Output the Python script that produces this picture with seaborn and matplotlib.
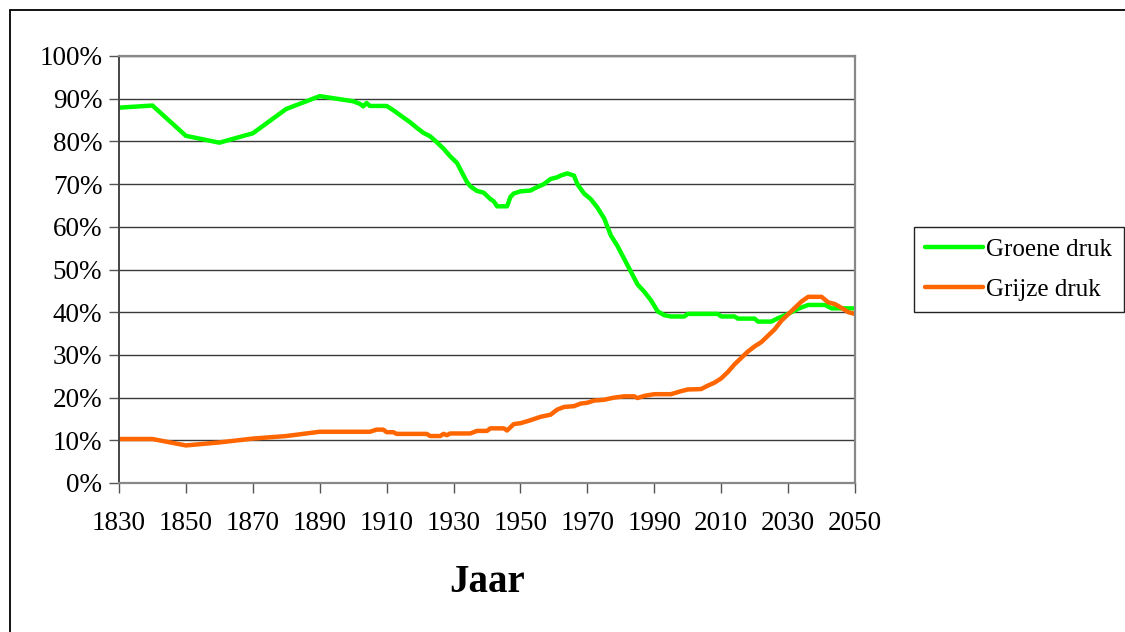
import matplotlib
matplotlib.use("Agg")
import matplotlib.pyplot as plt
from matplotlib.patches import Rectangle
from matplotlib.ticker import PercentFormatter
import pandas as pd
import seaborn as sns

# groene druk (young-age dependency)
green_years = [1830, 1840, 1850, 1860, 1870, 1880, 1890, 1900, 1902, 1903,
               1904, 1905, 1910, 1912, 1915, 1917, 1919, 1921, 1923, 1925,
               1927, 1929, 1931, 1932, 1934, 1935, 1937, 1939, 1941, 1942,
               1943, 1946, 1947, 1948, 1950, 1953, 1955, 1957, 1959, 1961,
               1962, 1964, 1966, 1967, 1969, 1971, 1973, 1975, 1977, 1979,
               1981, 1983, 1985, 1987, 1989, 1991, 1993, 1995, 1999, 2000,
               2009, 2010, 2014, 2015, 2020, 2021, 2025, 2027, 2030, 2033,
               2036, 2041, 2043, 2050]
green_vals = [87.9, 88.4, 81.3, 79.7, 81.9, 87.6, 90.6, 89.4, 88.8, 88.2,
              89.0, 88.3, 88.3, 87.3, 85.6, 84.5, 83.2, 82.0, 81.2, 79.8,
              78.3, 76.5, 75.0, 73.5, 70.5, 69.5, 68.4, 68.0, 66.5, 66.0,
              64.8, 64.8, 67.0, 67.8, 68.3, 68.5, 69.3, 70.0, 71.2, 71.6,
              72.0, 72.5, 72.0, 70.0, 67.8, 66.5, 64.5, 62.0, 58.0, 55.5,
              52.5, 49.5, 46.5, 44.8, 42.8, 40.2, 39.3, 39.0, 39.0, 39.6,
              39.6, 39.0, 39.0, 38.5, 38.5, 37.8, 37.8, 38.6, 39.6, 40.8,
              41.7, 41.7, 40.9, 40.9]

# grijze druk (old-age dependency)
grey_years = [1830, 1840, 1850, 1860, 1870, 1880, 1890, 1905, 1907, 1909,
              1910, 1912, 1913, 1922, 1923, 1926, 1927, 1928, 1929, 1935,
              1937, 1940, 1941, 1945, 1946, 1948, 1950, 1953, 1956, 1959,
              1961, 1963, 1966, 1968, 1970, 1972, 1975, 1978, 1981, 1984,
              1985, 1987, 1990, 1995, 1998, 2000, 2004, 2006, 2008, 2010,
              2012, 2014, 2016, 2018, 2020, 2022, 2024, 2026, 2028, 2030,
              2032, 2034, 2036, 2040, 2042, 2044, 2046, 2048, 2050]
grey_vals = [10.3, 10.3, 8.8, 9.5, 10.4, 11.0, 12.0, 12.0, 12.5, 12.5,
             11.9, 11.9, 11.5, 11.5, 11.0, 11.0, 11.5, 11.2, 11.6, 11.6,
             12.2, 12.2, 12.8, 12.8, 12.3, 13.8, 14.0, 14.7, 15.5, 16.0,
             17.2, 17.8, 18.0, 18.6, 18.8, 19.3, 19.5, 20.0, 20.3, 20.3,
             19.9, 20.4, 20.8, 20.8, 21.5, 21.9, 22.0, 22.8, 23.5, 24.5,
             26.0, 27.8, 29.3, 30.8, 32.0, 33.0, 34.5, 36.0, 38.0, 39.5,
             41.0, 42.5, 43.6, 43.6, 42.3, 41.9, 41.0, 40.0, 39.6]

series_names = ["Groene druk", "Grijze druk"]
x_ticks = list(range(1830, 2051, 20))
y_ticks = list(range(0, 101, 10))

df = pd.concat([
    pd.DataFrame({"Jaar": green_years, "druk": green_vals, "serie": series_names[0]}),
    pd.DataFrame({"Jaar": grey_years, "druk": grey_vals, "serie": series_names[1]}),
])

sns.set_style("white")
plt.rcParams["font.family"] = ["Liberation Serif", "DejaVu Serif"]
plt.rcParams["text.color"] = "black"
plt.rcParams["axes.labelcolor"] = "black"
plt.rcParams["xtick.color"] = "black"
plt.rcParams["ytick.color"] = "black"

fig = plt.figure(figsize=(11.25, 6.32), dpi=100)
ax = fig.add_axes([119 / 1125, 1 - 483 / 632, 736 / 1125, 427 / 632])

sns.lineplot(data=df, x="Jaar", y="druk", hue="serie", hue_order=series_names,
             palette=["#00FF00", "#FF6600"], linewidth=3.2, ax=ax,
             estimator=None, sort=False)

ax.set_xlim(1830, 2050)
ax.set_ylim(0, 100)
ax.set_xticks(x_ticks)
ax.set_yticks(y_ticks)
ax.yaxis.set_major_formatter(PercentFormatter(decimals=0))
ax.grid(axis="y", color="#3a3a3a", linewidth=1)
ax.set_axisbelow(True)
ax.tick_params(axis="both", labelsize=19.5, length=7, width=1, color="#555555",
               labelcolor="black", direction="out", bottom=True, left=True)
ax.tick_params(axis="x", pad=13)
ax.tick_params(axis="y", pad=5)
for side, sp in ax.spines.items():
    sp.set_color("#888888")
    sp.set_linewidth(1.6)
ax.spines["left"].set_color("#444444")
ax.spines["left"].set_linewidth(1.4)

ax.set_xlabel("Jaar", fontsize=28, fontweight="bold", labelpad=20, color="black")
ax.set_ylabel("")

handles, labels = ax.get_legend_handles_labels()
ax.legend(handles, labels, loc="center left", bbox_to_anchor=(914 / 1125, 1 - 269.5 / 632),
          bbox_transform=fig.transFigure, borderaxespad=0, fontsize=18,
          frameon=True, fancybox=False, edgecolor="#222222", framealpha=1,
          handlelength=2.3, handletextpad=0.15, labelspacing=0.7, borderpad=0.45)
ax.get_legend().get_frame().set_linewidth(1)

# chart-area border (runs off the right and bottom edges)
fig.patches.append(Rectangle((10 / 1125, -0.2), 1.3, 1.2 - 9.5 / 632,
                             transform=fig.transFigure, fill=False,
                             edgecolor="black", linewidth=1.3))

fig.savefig("out.png", dpi=100)
